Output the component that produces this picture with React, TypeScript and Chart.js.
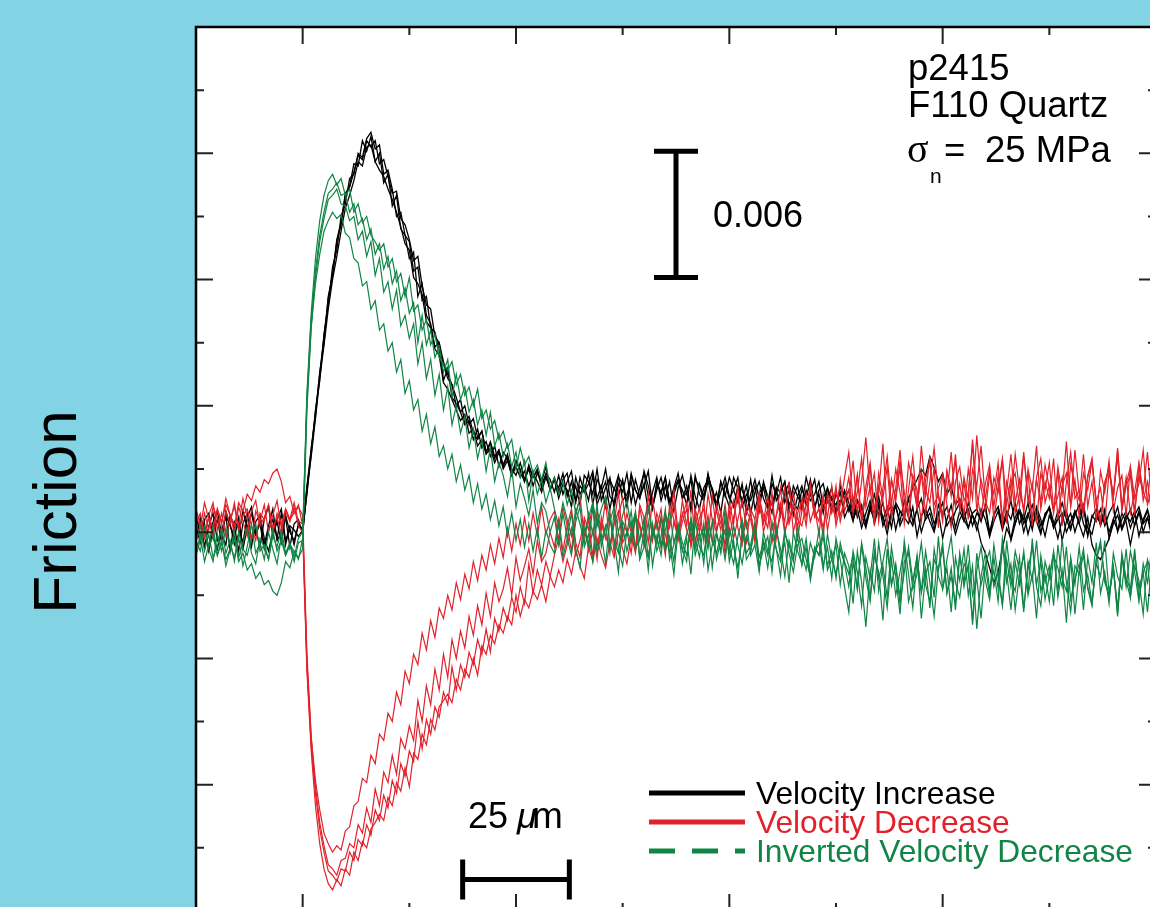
import React, { useEffect, useRef } from "react";
import { Chart, registerables } from "chart.js";

Chart.register(...registerables);

// ---------- axes ----------
const X_MIN = -25;
const X_MAX = 200;
const Y_MIN = -0.018;
const Y_MAX = 0.024;
const X_TICKS = [-25, 0, 25, 50, 75, 100, 125, 150, 175, 200];
const X_MAJOR_TICKS = [0, 50, 100, 150, 200];
const Y_TICKS = [-0.018, -0.015, -0.012, -0.009, -0.006, -0.003, 0, 0.003, 0.006, 0.009, 0.012, 0.015, 0.018, 0.021, 0.024];
const Y_MAJOR_TICKS = [-0.018, -0.012, -0.006, 0, 0.006, 0.012, 0.018, 0.024];

// displacement sampling (µm): one value per µm from -25 to 200
const DISP_START = -25;
const DISP_STEP = 1;
// friction change values below are in units of 1e-4
const FRICTION_UNIT = 1e-4;

// ---------- velocity increase traces ----------
const INCREASE_1 = [
  3, -5, 6, 9, -2, -8, 1, 7, 4, -6, -1, 10, 2, -7, 5, 8, -3, -9, 0, 6, 11, -4, 2, -6, 4,
  0, 19, 40, 55, 76, 90, 112, 122, 138, 146, 160, 164, 175, 174, 186, 181, 188, 176, 180, 166, 170,
  155, 160, 144, 141, 130, 133, 112, 118, 103, 99, 88, 90, 72, 78, 64, 61, 57, 51, 53, 44, 49, 40, 43, 36, 41, 31, 38, 35, 27, 34, 29, 24, 32, 26, 30, 21, 28, 25, 19,
  27, 18, 24, 29, 15, 22, 19, 28, 13, 25, 21, 30, 17, 14, 26, 23, 12, 27, 20, 16, 29, 22, 11, 24, 18, 26, 14, 21, 28, 16, 19, 25, 10, 23, 17, 27, 20, 13, 24, 18,
  12, 26, 21, 15, 22, 9, 19, 24, 16, 11, 23, 18, 26, 14, 20, 8, 17, 22, 13, 19, 25, 12, 16, 21, 10, 18, 14, 20,
  14, 6, 11, 2, 9, 15, 4, 12, 7, -1, 10, 13, 3, 8, 16, 5, 11, 0, 7, 12, 4, 9, -3, 6, 13, 2, 10, 5, 14, 8, 1, 11, 6, -2, 9, 12, 3, 7, 15, 4,
  10, 0, 8, 13, 5, -1, 9, 11, 2, 7, 14, 6, 1, 10, 4, 12, -2, 8, 5, 11, 3, 9, 13, 0, 6, 10, 2, 8, 12, 4, 7, 1, 9,
];
const INCREASE_2 = [
  -4, 7, 2, -8, 5, 10, -1, -6, 8, 3, -9, 4, 9, -3, 1, -7, 6, 12, -2, 5, -5, 8, 0, -4, 3,
  2, 18, 37, 58, 72, 94, 108, 126, 134, 150, 156, 168, 170, 180, 178, 187, 190, 182, 184, 170,
  172, 163, 150, 152, 141, 138, 124, 126, 110, 112, 97, 95, 86, 80, 73, 70, 60, 63, 52, 55, 47, 44, 48, 38, 42, 35, 39, 31, 36, 30, 27, 33, 25, 30, 22, 28, 24, 31, 20, 26,
  19, 25, 28, 16, 22, 13, 27, 24, 18, 30, 15, 21, 26, 11, 23, 19, 28, 14, 25, 17, 22, 29, 12, 20, 26, 16, 24, 10, 21, 27, 18, 13, 25, 22, 15, 28, 19, 11, 24, 17,
  26, 20, 14, 23, 9, 18, 25, 16, 21, 12, 27, 15, 19, 24, 10, 22, 17, 13, 26, 18, 11, 20, 23, 14, 17, 9, 22, 16,
  20, 8, 15, 11, 4, 13, 9, 17, 6, 12, 2, 14, 10, 7, 16, 21, 25, 30, 27, 36, 31, 24, 28, 18, 22, 13, 16, 8, 11, 3, 9, 6, 12, -2, 5, 10, 1, 8, -4, 4,
  11, 6, 14, 3, 9, 0, 7, 12, 5, -3, 6, 10, 2, 8, 13, 4, -1, 7, 11, 3, 9, 0, 6, 12, 2, 8, 5, 10, -2, 6, 11, 3, 8,
];
const INCREASE_3 = [
  8, -2, 4, -9, 1, 6, -5, 10, 3, -3, 7, -8, 2, 9, -1, 5, -6, 3, 11, -4, 0, 7, -7, 4, 6,
  -1, 21, 36, 54, 73, 89, 106, 120, 131, 143, 154, 160, 167, 176, 174, 183, 184, 176, 172, 169,
  163, 158, 152, 145, 137, 134, 121, 118, 113, 100, 97, 87, 84, 71, 68, 63, 58, 53, 56, 47, 49, 41, 44, 37, 40, 33, 38, 30, 34, 27, 31, 26, 29, 22, 28, 24, 19, 26, 21, 25,
  16, 23, 20, 12, 26, 18, 22, 15, 27, 13, 19, 24, 11, 21, 17, 25, 14, 28, 20, 16, 23, 10, 19, 26, 15, 22, 12, 18, 24, 20, 13, 27, 17, 11, 21, 25, 14, 19, 9, 23,
  16, 20, 26, 12, 18, 15, 22, 10, 24, 17, 13, 21, 8, 19, 23, 14, 11, 20, 16, 25, 12, 18, 9, 21, 15, 13, 19, 7,
  12, 5, 15, 8, 2, 11, 6, 14, 3, 9, 13, 1, 10, 7, 4, 12, -2, 8, 11, 5, 0, 9, 14, 3, 7, -1, 6, 10, 2, 8, 4, -5, -10, -17, -24, -19, -8, 2, -3, 7,
  11, 4, 9, 1, 12, 6, -2, 8, 3, 10, -4, 5, 9, 0, 7, 13, 2, -1, 8, 4, 11, -3, 6, 1, 9, 5, -6, 4, 10, 0, 7, -2, 5,
];
const INCREASE_4 = [
  -2, 6, -7, 3, 9, -4, 0, 8, -9, 5, 2, -5, 7, 12, -1, 4, -8, 1, 6, -3, 9, -6, 3, 1, -2,
  1, 22, 39, 57, 75, 93, 111, 122, 139, 147, 161, 164, 171, 179, 177, 186, 183, 186, 175, 177,
  169, 161, 162, 149, 146, 139, 129, 131, 117, 108, 106, 93, 90, 81, 75, 70, 64, 57, 60, 51, 54, 45, 48, 38, 43, 36, 39, 32, 37, 28, 33, 30, 24, 31, 26, 29, 23, 27, 20, 25,
  21, 28, 17, 24, 14, 26, 19, 23, 29, 16, 22, 12, 25, 20, 27, 15, 18, 24, 13, 21, 28, 17, 11, 23, 19, 26, 14, 20, 25, 16, 22, 10, 27, 18, 15, 24, 21, 13, 19, 26,
  17, 12, 22, 20, 14, 25, 11, 18, 23, 16, 9, 21, 19, 24, 13, 17, 22, 11, 20, 15, 18, 24, 12, 16, 21, 9, 14, 19,
  10, 16, 7, 13, 4, 11, 18, 8, 14, 2, 9, 12, 5, 15, 7, 3, 11, 16, 6, 9, 1, 13, 8, 12, 4, 10, 14, 6, 2, 9, 11, 5, 13, 0, 8, 12, 3, 10, 6, 14,
  4, 9, -1, 7, 11, 3, 8, 12, 2, 6, 9, 0, 5, 10, 4, -2, 7, -6, -11, -13, -8, -3, 4, 8, 1, 6, 11, 3, 9, 5, 10, 2, 7,
];

// ---------- velocity decrease traces ----------
const DECREASE_1 = [
  9, 2, 14, 6, -3, 11, 4, 16, 8, 0, 12, 5, -2, 10, 15, 3, 7, 13, -1, 9, 4, 11, 6, 14, 5,
  4, -62, -98, -118, -132, -143, -148, -152, -149, -151, -142, -140, -130, -128, -117, -119, -106, -110, -96, -99,
  -86, -90, -76, -82, -66, -72, -58, -63, -48, -56, -42, -50, -36, -41, -30, -37, -24, -32, -20, -27, -14, -23, -11, -18, -6, -15, -3, -12, 2, -9, 4, -6, 7, -4, 9, -2, 12, -1, 6, 10,
  -4, 12, 3, -9, 8, 17, -2, 6, -12, 10, 1, 15, -6, 4, 19, -3, 9, 0, -10, 13, 7, -5, 16, 2, 11, -8, 5, 20, -1, 8, 14, -7, 3, 12, -4, 18, 6, 0, 10, -11,
  7, 15, 2, -6, 13, 9, -2, 17, 4, 11, -5, 8, 21, 1, 6, 14, -3, 10, 18, 5, 12, -1, 16, 7, 22, 3, 13, 26,
  38, 14, 27, 6, 22, 33, 11, 19, 42, 8, 25, 16, 31, 4, 20, 36, 13, 28, 9, 24, 40, 17, 5, 29, 21, 34, 10, 26, 15, 44, 18, 7, 23, 32, 12, 27, 3, 19, 37, 14,
  25, 9, 30, 20, 41, 11, 24, 16, 35, 6, 22, 28, 13, 39, 18, 8, 26, 33, 15, 21, 4, 29, 17, 36, 12, 23, 31, 10, 27, 19, 38, 14, 24,
];
const DECREASE_2 = [
  4, 9, -1, 7, 2, 11, 5, 13, 8, 3, 14, 10, 18, 15, 22, 19, 25, 23, 28, 30, 24, 14, 17, 9, 12,
  8, -58, -97, -121, -138, -149, -158, -160, -163, -156, -155, -148, -150, -139, -143, -131, -138, -122, -130, -114,
  -119, -106, -115, -98, -103, -92, -99, -80, -90, -73, -82, -65, -75, -58, -69, -51, -60, -47, -55, -40, -49, -35, -44, -29, -40, -24, -33, -27, -17, -30, -12, -23, -16, -8, -20, -4, -14, -10, 0, -7,
  6, -9, 3, 11, -5, -12, 7, 1, 14, -7, 4, -3, 10, -10, 8, 16, -1, 5, -8, 12, 0, 18, -4, 9, 2, -11, 13, 6, -2, 15, 3, 20, -6, 7, 11, -3, 17, 1, 9, -7,
  14, 4, 22, -1, 10, 6, -5, 16, 8, 2, 19, -3, 12, 5, 24, 0, 9, 15, 3, 21, 7, 11, -2, 18, 13, 6, 25, 10,
  16, 34, 9, 24, 45, 18, 28, 5, 21, 36, 13, 30, 19, 7, 33, 25, 11, 41, 20, 14, 31, 2, 27, 17, 38, 12, 23, 8, 30, 16, 46, 21, 10, 27, 18, 33, 6, 24, 15, 37,
  20, 11, 29, 3, 26, 35, 14, 22, 9, 31, 18, 43, 12, 25, 7, 28, 20, 34, 13, 4, 24, 30, 16, 39, 10, 22, 27, 8, 32, 19, 14, 36, 21,
];
const DECREASE_3 = [
  11, 4, -3, 8, 14, 1, 9, -2, 6, 12, 3, 16, 7, -4, 10, 5, 13, 0, 8, 15, 2, 11, 6, 9, 13,
  3, -64, -101, -124, -141, -152, -161, -163, -166, -160, -161, -152, -156, -146, -149, -139, -144, -132, -137, -125,
  -131, -118, -124, -110, -116, -104, -109, -90, -103, -89, -96, -83, -88, -76, -82, -64, -75, -63, -69, -57, -63, -51, -58, -46, -57, -41, -47, -36, -42, -31, -38, -26, -34, -15, -29, -18, -25, -14, -21, -11,
  -3, -14, -6, 2, -11, -4, 5, -9, 1, -13, 7, -2, -8, 4, 10, -5, 0, -10, 8, 3, -6, 12, -1, 6, -7, 9, 2, 14, -4, 5, 11, -3, 8, 0, 15, -6, 4, 10, 1, 13,
  -2, 7, 17, 3, -5, 11, 6, 19, 0, 9, 14, -1, 8, 21, 4, 12, 2, 16, 7, 23, 10, 5, 18, 1, 13, 20, 8, 15,
  26, 9, 19, 35, 12, 22, 3, 28, 16, 31, 7, 21, 39, 14, 10, 27, 20, 5, 25, 33, 13, 18, 8, 29, 17, 37, 11, 24, 6, 30, 22, 41, 15, 9, 26, 19, 34, 4, 23, 28,
  12, 36, 18, 7, 25, 14, 32, 21, 10, 29, 3, 24, 38, 16, 20, 11, 27, 35, 13, 6, 22, 31, 17, 40, 12, 26, 9, 19, 33, 15, 24, 8, 28,
];
const DECREASE_4 = [
  5, -3, 9, 1, 12, 7, -2, 10, 4, 14, 0, 8, 11, 3, -4, 9, 6, 13, 2, 7, -1, 10, 5, 12, 3,
  0, -66, -104, -130, -148, -160, -167, -170, -165, -168, -160, -163, -152, -156, -147, -150, -141, -138, -134, -137,
  -126, -130, -119, -123, -112, -121, -105, -108, -96, -101, -89, -94, -83, -80, -77, -81, -70, -75, -65, -69, -60, -68, -54, -58, -49, -53, -44, -48, -40, -44, -30, -40, -32, -36, -28, -32, -25, -33, -21, -26,
  -18, -24, -13, -20, -9, -16, -22, -7, -14, -3, -11, -17, -5, -12, 0, -8, -15, -2, -9, 4, -6, -12, 2, -4, 7, -1, -10, 5, -3, 9, 1, -6, 11, 3, -2, 8, -5, 13, 4, 0,
  10, -3, 6, 15, 2, 9, -4, 12, 5, 17, 1, 8, 14, -1, 10, 19, 6, 3, 13, 21, 7, 11, 2, 16, 9, 22, 5, 14,
  20, 11, 27, 5, 17, 31, 9, 22, 14, 3, 25, 15, 34, 19, 7, 23, 12, 29, 17, 36, 8, 21, 27, 13, 2, 24, 31, 15, 19, 42, 10, 25, 16, 30, 6, 21, 35, 13, 26, 9,
  18, 38, 14, 23, 4, 28, 20, 33, 11, 17, 26, 7, 32, 22, 15, 37, 12, 24, 5, 29, 19, 34, 10, 21, 27, 8, 31, 16, 23, 39, 13, 20, 26,
];

const INCREASE_TRACES = [INCREASE_1, INCREASE_2, INCREASE_3, INCREASE_4];
const DECREASE_TRACES = [DECREASE_1, DECREASE_2, DECREASE_3, DECREASE_4];

// ---------- annotations ----------
const LEGEND_LABELS = ["Velocity Increase", "Velocity Decrease", "Inverted Velocity Decrease"];
const INFO_LINES = ["p2415", "F110 Quartz"];
const FRICTION_BAR = { x: 87.5, y0: 0.0121, y1: 0.0181, label: "0.006" };
const DISP_BAR = { x0: 37.5, x1: 62.5, y: -0.0165 };

const BG_BLUE = "#82D3E3";
const C_BLACK = "#000000";
const C_RED = "#E2212A";
const C_GREEN = "#108545";
const FONT = '"Liberation Sans", Arial, Helvetica, sans-serif';

function toPoints(vals: number[], sign: number) {
  return vals.map((v, i) => ({ x: DISP_START + DISP_STEP * i, y: sign * v * FRICTION_UNIT }));
}

const decorPlugin = {
  id: "decor",
  beforeDraw(chart: any) {
    const { ctx, chartArea: a, width, height } = chart;
    ctx.save();
    ctx.fillStyle = BG_BLUE;
    ctx.fillRect(0, 0, width, height);
    ctx.fillStyle = "#ffffff";
    ctx.fillRect(a.left, a.top, a.right - a.left, a.bottom - a.top);
    ctx.restore();
  },
  afterDraw(chart: any) {
    const { ctx, chartArea: a } = chart;
    const xs = chart.scales.x;
    const ys = chart.scales.y;
    ctx.save();
    // inward ticks on all four sides
    ctx.strokeStyle = "#222";
    ctx.lineWidth = 2;
    ctx.lineCap = "butt";
    X_TICKS.forEach((v) => {
      const px = xs.getPixelForValue(v);
      const len = X_MAJOR_TICKS.includes(v) ? 17 : 8;
      ctx.beginPath();
      ctx.moveTo(px, a.top);
      ctx.lineTo(px, a.top + len);
      ctx.moveTo(px, a.bottom);
      ctx.lineTo(px, a.bottom - len);
      ctx.stroke();
    });
    Y_TICKS.forEach((v) => {
      const py = ys.getPixelForValue(v);
      const len = Y_MAJOR_TICKS.some((m) => Math.abs(m - v) < 1e-9) ? 17 : 8;
      ctx.beginPath();
      ctx.moveTo(a.left, py);
      ctx.lineTo(a.left + len, py);
      ctx.moveTo(a.right, py);
      ctx.lineTo(a.right - len, py);
      ctx.stroke();
    });
    // frame
    ctx.strokeStyle = "#000";
    ctx.lineWidth = 2.5;
    ctx.strokeRect(a.left, a.top, a.right - a.left, a.bottom - a.top);

    // friction scale bar
    ctx.lineWidth = 5;
    const fx = xs.getPixelForValue(FRICTION_BAR.x);
    const fy0 = ys.getPixelForValue(FRICTION_BAR.y0);
    const fy1 = ys.getPixelForValue(FRICTION_BAR.y1);
    ctx.beginPath();
    ctx.moveTo(fx, fy0);
    ctx.lineTo(fx, fy1);
    ctx.moveTo(fx - 22, fy0);
    ctx.lineTo(fx + 22, fy0);
    ctx.moveTo(fx - 22, fy1);
    ctx.lineTo(fx + 22, fy1);
    ctx.stroke();
    ctx.fillStyle = "#000";
    ctx.font = `36px ${FONT}`;
    ctx.textBaseline = "alphabetic";
    ctx.textAlign = "left";
    ctx.fillText(FRICTION_BAR.label, fx + 37, (fy0 + fy1) / 2 + 13);

    // displacement scale bar
    const dx0 = xs.getPixelForValue(DISP_BAR.x0);
    const dx1 = xs.getPixelForValue(DISP_BAR.x1);
    const dy = ys.getPixelForValue(DISP_BAR.y);
    ctx.beginPath();
    ctx.moveTo(dx0, dy);
    ctx.lineTo(dx1, dy);
    ctx.moveTo(dx0, dy - 20);
    ctx.lineTo(dx0, dy + 20);
    ctx.moveTo(dx1, dy - 20);
    ctx.lineTo(dx1, dy + 20);
    ctx.stroke();
    ctx.font = `36px ${FONT}`;
    ctx.fillText("25", 468, 828);
    ctx.font = `italic 36px ${FONT}`;
    ctx.fillText("\u03bc", 517, 828);
    ctx.font = `37px ${FONT}`;
    ctx.fillText("m", 532, 828);

    // info text
    ctx.font = `36.5px ${FONT}`;
    ctx.fillText(INFO_LINES[0], 908, 80);
    ctx.fillText(INFO_LINES[1], 908, 117);
    ctx.font = `40px "Liberation Serif", "DejaVu Serif", serif`;
    ctx.fillText("\u03c3", 907, 162);
    ctx.font = `21px ${FONT}`;
    ctx.fillText("n", 930, 183);
    ctx.font = `36.5px ${FONT}`;
    ctx.fillText("=", 944, 162);
    ctx.fillText("25 MPa", 985, 162);

    // legend
    const legendColors = [C_BLACK, C_RED, C_GREEN];
    const legendY = [793, 822, 851];
    ctx.lineWidth = 5;
    legendColors.forEach((c, k) => {
      ctx.strokeStyle = c;
      ctx.setLineDash(k === 2 ? [26, 17] : []);
      ctx.beginPath();
      ctx.moveTo(649, legendY[k]);
      ctx.lineTo(745, legendY[k]);
      ctx.stroke();
      ctx.setLineDash([]);
      ctx.fillStyle = c;
      ctx.font = `31.7px ${FONT}`;
      ctx.fillText(LEGEND_LABELS[k], 756, legendY[k] + 11);
    });

    // y-axis title
    ctx.fillStyle = "#000";
    ctx.font = `62px ${FONT}`;
    ctx.translate(76, 512);
    ctx.rotate(-Math.PI / 2);
    ctx.textAlign = "center";
    ctx.fillText("Friction", 0, 0);
    ctx.restore();
  },
};

export default function App() {
  const ref = useRef<HTMLCanvasElement | null>(null);
  useEffect(() => {
    document.body.style.margin = "0";
    const canvas = ref.current;
    if (!canvas) return;
    const datasets: any[] = [];
    DECREASE_TRACES.forEach((t, k) =>
      datasets.push({
        label: k === 0 ? LEGEND_LABELS[2] : "",
        data: toPoints(t, -1),
        borderColor: C_GREEN,
        borderWidth: 1.2,
        pointRadius: 0,
        tension: 0,
        fill: false,
      })
    );
    DECREASE_TRACES.forEach((t, k) =>
      datasets.push({
        label: k === 0 ? LEGEND_LABELS[1] : "",
        data: toPoints(t, 1),
        borderColor: C_RED,
        borderWidth: 1.2,
        pointRadius: 0,
        tension: 0,
        fill: false,
      })
    );
    INCREASE_TRACES.forEach((t, k) =>
      datasets.push({
        label: k === 0 ? LEGEND_LABELS[0] : "",
        data: toPoints(t, 1),
        borderColor: C_BLACK,
        borderWidth: 1.3,
        pointRadius: 0,
        tension: 0,
        fill: false,
      })
    );
    const chart = new Chart(canvas, {
      type: "line",
      data: { datasets },
      options: {
        animation: false,
        responsive: false,
        devicePixelRatio: 1,
        events: [],
        layout: { padding: { left: 196, top: 27, right: 14, bottom: 19 } },
        plugins: { legend: { display: false }, tooltip: { enabled: false } },
        scales: {
          x: { type: "linear", min: X_MIN, max: X_MAX, display: false },
          y: { type: "linear", min: Y_MIN, max: Y_MAX, display: false },
        },
      },
      plugins: [decorPlugin],
    } as any);
    return () => chart.destroy();
  }, []);
  return (
    <div style={{ position: "fixed", left: 0, top: 0, width: 1150, height: 907, overflow: "hidden", background: BG_BLUE }}>
      <canvas ref={ref} width={1170} height={930} style={{ display: "block", width: 1170, height: 930 }} />
    </div>
  );
}
